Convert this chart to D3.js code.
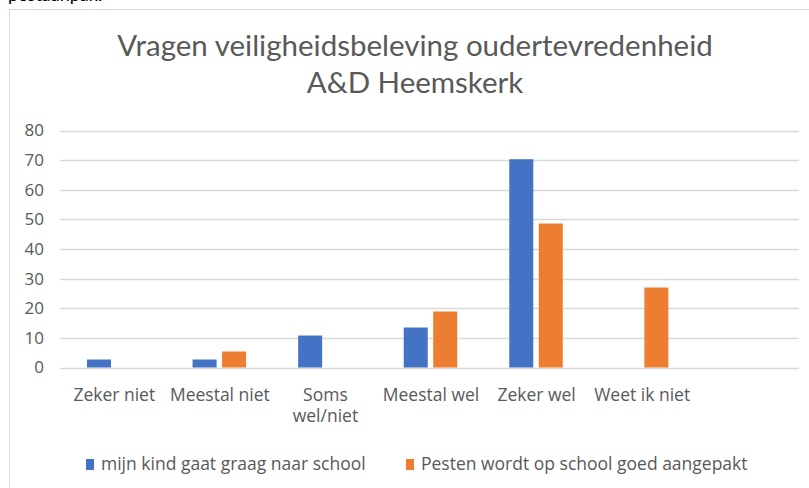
<!DOCTYPE html>
<html>
<head>
<meta charset="utf-8">
<script src="https://cdn.jsdelivr.net/npm/d3@7"></script>
<style>
  html, body { margin: 0; padding: 0; background: #fff; }
  svg { display: block; }
</style>
</head>
<body>
<svg id="chart" width="809" height="488"></svg>
<script>
const categories = ["Zeker niet", "Meestal niet", "Soms wel/niet", "Meestal wel", "Zeker wel", "Weet ik niet", ""];
const categoryLines = [["Zeker niet"], ["Meestal niet"], ["Soms", "wel/niet"], ["Meestal wel"], ["Zeker wel"], ["Weet ik niet"], [""]];
const seriesNames = ["mijn kind gaat graag naar school", "Pesten wordt op school goed aangepakt"];
const seriesColors = ["#4472C4", "#ED7D31"];
const kindGraag = [2.7, 2.7, 10.8, 13.5, 70.3, 0, 0];
const pestenAangepakt = [0, 5.4, 0, 18.9, 48.6, 27.0, 0];
const yTicks = [0, 10, 20, 30, 40, 50, 60, 70, 80];
const titleLines = ["Vragen veiligheidsbeleving oudertevredenheid", "A&D Heemskerk"];

const svg = d3.select("#chart");
const textColor = "#595959";
const gridColor = "#d9d9d9";

// clipped caption text above the chart frame
svg.append("text")
  .attr("x", 8).attr("y", 1)
  .attr("font-family", "Lato, sans-serif")
  .attr("font-size", 18)
  .attr("fill", "#000")
  .text("pestaanpak.");

// chart frame
svg.append("rect")
  .attr("x", 9.5).attr("y", 9.5)
  .attr("width", 820).attr("height", 500)
  .attr("fill", "#fff")
  .attr("stroke", gridColor)
  .attr("stroke-width", 1);

// title
const titleG = svg.append("g")
  .attr("font-family", "Lato, sans-serif")
  .attr("fill", textColor)
  .attr("text-anchor", "middle");
titleLines.forEach((t, i) => {
  titleG.append("text")
    .attr("x", 415)
    .attr("y", 56 + i * 37)
    .attr("font-size", 29.5)
    .text(t);
});

// scales
const x0 = d3.scaleBand().domain(categories.map((c, i) => i)).range([60, 799]).padding(0);
const x1 = d3.scaleBand().domain([0, 1]).range([27, 80.5]).paddingInner(0.186);
const y = d3.scaleLinear().domain([0, 80]).range([367.5, 130.5]);

// gridlines
svg.append("g")
  .selectAll("line")
  .data(yTicks)
  .join("line")
  .attr("x1", 60).attr("x2", 799)
  .attr("y1", d => Math.round(y(d)) + 0.5)
  .attr("y2", d => Math.round(y(d)) + 0.5)
  .attr("stroke", gridColor)
  .attr("stroke-width", 1.3);

// y axis labels
const yAxis = d3.axisLeft(y).tickValues(yTicks).tickSize(0).tickPadding(0);
const yG = svg.append("g").attr("transform", "translate(44,0)").call(yAxis);
yG.select(".domain").remove();
yG.selectAll("text")
  .attr("font-family", "'Open Sans', sans-serif")
  .attr("font-size", 17)
  .attr("fill", textColor);

// bars
const seriesData = [kindGraag, pestenAangepakt];
seriesData.forEach((vals, s) => {
  svg.append("g")
    .selectAll("rect")
    .data(vals.map((v, i) => ({ i, v })).filter(d => d.v > 0))
    .join("rect")
    .attr("x", d => x0(d.i) + x1(s))
    .attr("width", x1.bandwidth())
    .attr("y", d => y(d.v))
    .attr("height", d => y(0) - y(d.v))
    .attr("fill", seriesColors[s]);
});

// x category labels
const xG = svg.append("g")
  .attr("font-family", "'Open Sans', sans-serif")
  .attr("font-size", 17.5)
  .attr("fill", textColor)
  .attr("text-anchor", "middle");
categoryLines.forEach((lines, i) => {
  const cx = x0(i) + x0.bandwidth() / 2 + 1.5;
  const t = xG.append("text")
    .attr("x", cx)
    .attr("y", 401);
  lines.forEach((ln, j) => {
    t.append("tspan")
      .attr("x", cx)
      .attr("dy", j === 0 ? 0 : 21)
      .text(ln);
  });
});

// legend
const legendPos = [86, 406];
const legend = svg.append("g");
seriesNames.forEach((name, s) => {
  legend.append("rect")
    .attr("x", legendPos[s]).attr("y", 459)
    .attr("width", 8).attr("height", 11)
    .attr("fill", seriesColors[s]);
  legend.append("text")
    .attr("x", legendPos[s] + 15).attr("y", 470)
    .attr("font-family", "'Open Sans', sans-serif")
    .attr("font-size", 17.5)
    .attr("fill", textColor)
    .text(name);
});
</script>
</body>
</html>
